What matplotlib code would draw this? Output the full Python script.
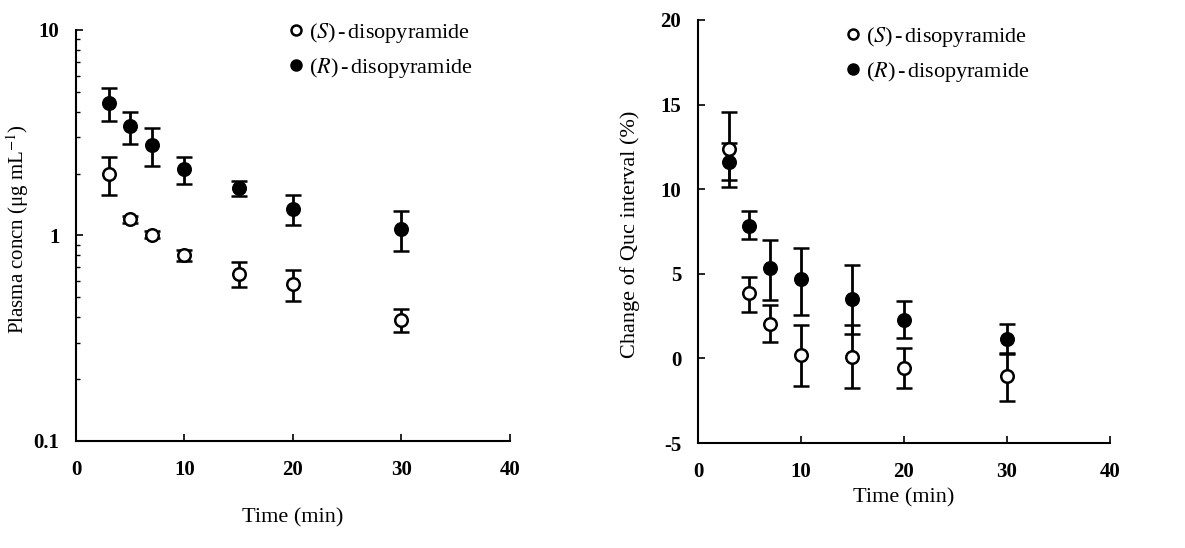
import numpy as np
import matplotlib.pyplot as plt

plt.rcParams['font.family'] = ['Liberation Serif', 'DejaVu Serif']
plt.rcParams['mathtext.fontset'] = 'stix'
plt.rcParams['axes.unicode_minus'] = False

# sampling times (min)
time = [3, 5, 7, 10, 15, 20, 30]

# plasma concentration (ug/mL), mean and error
conc_s = [2.0, 1.2, 1.01, 0.80, 0.65, 0.58, 0.39]
conc_s_err = [0.42, 0.05, 0.04, 0.05, 0.09, 0.1, 0.05]
conc_r = [4.4, 3.4, 2.75, 2.1, 1.7, 1.35, 1.08]
conc_r_err = [0.8, 0.6, 0.57, 0.32, 0.15, 0.23, 0.24]

# change of Quc interval (%), mean with lower/upper error
quc_s = [12.35, 3.86, 2.05, 0.2, 0.1, -0.55, -1.05]
quc_s_lo = [1.8, 1.1, 1.08, 1.85, 1.85, 1.18, 1.45]
quc_s_hi = [0.4, 0.95, 1.08, 1.8, 1.85, 1.17, 1.35]
quc_r = [11.6, 7.85, 5.35, 4.67, 3.53, 2.29, 1.12]
quc_r_lo = [1.5, 0.82, 1.87, 2.08, 2.07, 1.09, 0.84]
quc_r_hi = [2.95, 0.84, 1.66, 1.87, 1.97, 1.08, 0.89]

lab_s = r'($S$)$\,$-$\,$disopyramide'
lab_r = r'($R$)$\,$-$\,$disopyramide'

fig = plt.figure(figsize=(11.85, 5.48), dpi=100)
ax1 = fig.add_axes([0.0641, 0.1953, 0.3662, 0.75])
ax2 = fig.add_axes([0.589, 0.1916, 0.3477, 0.772])

ebkw = dict(fmt='o', ms=9, mew=1.8, ecolor='black', elinewidth=2.0,
            capsize=6, capthick=2.0, linestyle='none')

# left: plasma concentrations on log scale
ax1.errorbar(time, conc_r, yerr=conc_r_err, mfc='black', mec='black',
             label=lab_r, **ebkw)
ax1.errorbar(time, conc_s, yerr=conc_s_err, mfc='white', mec='black',
             label=lab_s, **ebkw)
ax1.set_yscale('log')
ax1.set_ylim(0.1, 10)
ax1.set_xlim(0, 40)
ax1.set_xticks([0, 10, 20, 30, 40])
ax1.set_yticks([0.1, 1, 10])
ax1.set_yticklabels(['0.1', '1', '10'])
ax1.set_xlabel('Time (min)', fontsize=16, labelpad=20)
ax1.set_ylabel('Plasma concn (\u03bcg mL$^{-1}$)', fontsize=15)
ax1.yaxis.set_label_coords(-0.104, 0.515)

# right: Quc interval change
ax2.errorbar(time, quc_r, yerr=[quc_r_lo, quc_r_hi], mfc='black',
             mec='black', label=lab_r, **ebkw)
ax2.errorbar(time, quc_s, yerr=[quc_s_lo, quc_s_hi], mfc='white',
             mec='black', label=lab_s, **ebkw)
ax2.set_ylim(-5, 20)
ax2.set_xlim(0, 40)
ax2.set_xticks([0, 10, 20, 30, 40])
ax2.set_yticks([-5, 0, 5, 10, 15, 20])
ax2.set_xlabel('Time (min)', fontsize=16, labelpad=4)
ax2.set_ylabel('Change of Quc interval (%)', fontsize=16)
ax2.yaxis.set_label_coords(-0.141, 0.494)

legend_anchor = {ax1: (0.2422, 0.9617), ax2: (0.7122, 0.9544)}

for ax in (ax1, ax2):
    for side in ('top', 'right'):
        ax.spines[side].set_visible(False)
    for side in ('left', 'bottom'):
        ax.spines[side].set_linewidth(1.5)
    ax.tick_params(direction='in', length=5, width=1.2, labelsize=15)
    ax.tick_params(axis='x', pad=14)
    ax.tick_params(axis='y', pad=12)
    ax.tick_params(which='minor', direction='in', length=3, width=1.0)
    for t in ax.get_xticklabels() + ax.get_yticklabels():
        t.set_fontweight('bold')
    h, l = ax.get_legend_handles_labels()
    # S listed first, markers only
    ax.legend([h[1][0], h[0][0]], [l[1], l[0]], loc='upper left',
              bbox_to_anchor=legend_anchor[ax], bbox_transform=fig.transFigure,
              frameon=False, fontsize=16, handletextpad=0.2,
              handlelength=0.8, labelspacing=0.5, markerscale=0.8,
              borderaxespad=0, borderpad=0)

plt.savefig('out.png', dpi=100)
